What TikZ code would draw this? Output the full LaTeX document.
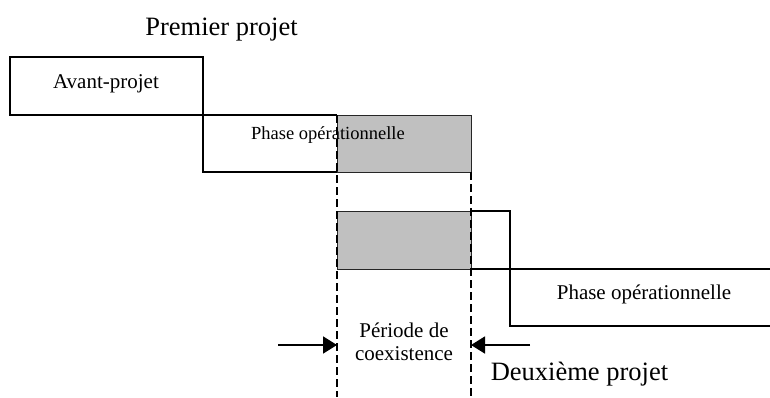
\documentclass[tikz,border=0pt]{standalone}
\usepackage{fontspec}
\setmainfont{Liberation Serif}
\usetikzlibrary{arrows.meta}
\definecolor{shade}{HTML}{C0C0C0}
\begin{document}
\begin{tikzpicture}[x=1pt,y=-1pt,
  thickline/.style={line width=1.9pt,black},
  midline/.style={line width=1.5pt,black},
  grayrect/.style={fill=shade,draw=black!85,line width=0.9pt},
  dashline/.style={line width=1.9pt,dash pattern=on 8pt off 4pt},
  lbl/.style={inner sep=0pt,anchor=base},
  arr/.style={line width=1.8pt,-{Triangle[length=14pt,width=17pt]}}]
\useasboundingbox (0,0) rectangle (770,397);
% gray overlap areas
\draw[grayrect] (337,115) rectangle (471,172);
\draw[grayrect] (337,211) rectangle (471,269);
% dashed boundaries of the coexistence period
\coordinate (d1t) at (337,115);
\coordinate (d1b) at (337,397);
\coordinate (d2t) at (471,172);
\coordinate (d2b) at (471,397);
\draw[dashline] (d1t) -- (d1b);
\draw[dashline] (d2t) -- (d2b);
% first project
\draw[thickline] (10,57) rectangle (203,115);
\draw[thickline] (203,115) -- (337,115);
\draw[thickline] (203,115) -- (203,172) -- (337,172);
% second project
\draw[thickline] (471,211) -- (510,211) -- (510,326) -- (770,326);
\draw[midline] (471,269) -- (770,269);
% arrows
\coordinate (la) at (278,345);
\coordinate (lt) at (337,345);
\coordinate (ra) at (530,345);
\coordinate (rt) at (471,345);
\draw[arr] (la) -- (lt);
\draw[arr] (ra) -- (rt);
% texts
\node[lbl,font=\fontsize{26.5}{30}\selectfont] (p1) at (221.5,35) {Premier projet};
\node[lbl,font=\fontsize{21}{24}\selectfont] (ap) at (106,88) {Avant-projet};
\node[lbl,font=\fontsize{18.5}{22}\selectfont] (po1) at (328,139) {Phase opérationnelle};
\node[lbl,font=\fontsize{21}{24}\selectfont] (po2) at (644,299) {Phase opérationnelle};
\node[lbl,font=\fontsize{21}{24}\selectfont] (per1) at (404,337) {Période de};
\node[lbl,font=\fontsize{21}{24}\selectfont] (per2) at (404,360) {coexistence};
\node[lbl,font=\fontsize{26.5}{30}\selectfont] (p2) at (579.5,380) {Deuxième projet};
\end{tikzpicture}
\end{document}
